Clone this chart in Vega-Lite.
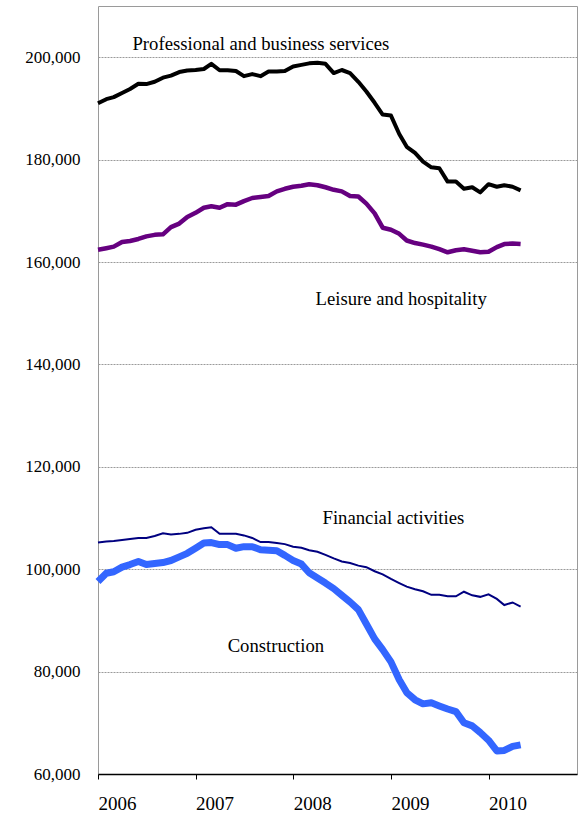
{
  "$schema": "https://vega.github.io/schema/vega-lite/v6.json",
  "width": 479,
  "height": 768,
  "autosize": {"type": "none"},
  "padding": {"left": 98, "top": 6, "right": 7, "bottom": 41},
  "background": "white",
  "config": {
    "view": {"stroke": "#9a9a9a", "strokeWidth": 1},
    "font": "Liberation Serif",
    "axis": {"labelFont": "Liberation Serif", "labelColor": "#000000", "titleFont": "Liberation Serif"}
  },
  "datasets": {
    "emp": [
      {"date": "2006-01-01", "pro": 191000, "lei": 162400, "fin": 105200, "con": 97600},
      {"date": "2006-02-01", "pro": 191800, "lei": 162700, "fin": 105400, "con": 99200},
      {"date": "2006-03-01", "pro": 192200, "lei": 163000, "fin": 105500, "con": 99500},
      {"date": "2006-04-01", "pro": 193000, "lei": 163900, "fin": 105700, "con": 100400},
      {"date": "2006-05-01", "pro": 193800, "lei": 164100, "fin": 105900, "con": 100900},
      {"date": "2006-06-01", "pro": 194800, "lei": 164500, "fin": 106100, "con": 101500},
      {"date": "2006-07-01", "pro": 194750, "lei": 165000, "fin": 106100, "con": 100900},
      {"date": "2006-08-01", "pro": 195200, "lei": 165300, "fin": 106500, "con": 101100},
      {"date": "2006-09-01", "pro": 196000, "lei": 165400, "fin": 107000, "con": 101300},
      {"date": "2006-10-01", "pro": 196400, "lei": 166800, "fin": 106800, "con": 101700},
      {"date": "2006-11-01", "pro": 197100, "lei": 167500, "fin": 106900, "con": 102400},
      {"date": "2006-12-01", "pro": 197400, "lei": 168800, "fin": 107100, "con": 103100},
      {"date": "2007-01-01", "pro": 197500, "lei": 169600, "fin": 107700, "con": 104100},
      {"date": "2007-02-01", "pro": 197700, "lei": 170600, "fin": 108000, "con": 105100},
      {"date": "2007-03-01", "pro": 198700, "lei": 170900, "fin": 108200, "con": 105200},
      {"date": "2007-04-01", "pro": 197450, "lei": 170600, "fin": 106900, "con": 104800},
      {"date": "2007-05-01", "pro": 197450, "lei": 171300, "fin": 106900, "con": 104800},
      {"date": "2007-06-01", "pro": 197300, "lei": 171200, "fin": 106900, "con": 104100},
      {"date": "2007-07-01", "pro": 196300, "lei": 171900, "fin": 106600, "con": 104400},
      {"date": "2007-08-01", "pro": 196700, "lei": 172500, "fin": 106100, "con": 104400},
      {"date": "2007-09-01", "pro": 196300, "lei": 172700, "fin": 105300, "con": 103800},
      {"date": "2007-10-01", "pro": 197200, "lei": 172900, "fin": 105300, "con": 103700},
      {"date": "2007-11-01", "pro": 197200, "lei": 173800, "fin": 105100, "con": 103600},
      {"date": "2007-12-01", "pro": 197300, "lei": 174300, "fin": 104900, "con": 102700},
      {"date": "2008-01-01", "pro": 198200, "lei": 174700, "fin": 104400, "con": 101700},
      {"date": "2008-02-01", "pro": 198500, "lei": 174900, "fin": 104200, "con": 101000},
      {"date": "2008-03-01", "pro": 198800, "lei": 175200, "fin": 103700, "con": 99300},
      {"date": "2008-04-01", "pro": 198900, "lei": 175000, "fin": 103400, "con": 98300},
      {"date": "2008-05-01", "pro": 198700, "lei": 174600, "fin": 102800, "con": 97300},
      {"date": "2008-06-01", "pro": 196900, "lei": 174100, "fin": 102100, "con": 96200},
      {"date": "2008-07-01", "pro": 197500, "lei": 173800, "fin": 101500, "con": 94900},
      {"date": "2008-08-01", "pro": 196900, "lei": 172900, "fin": 101200, "con": 93600},
      {"date": "2008-09-01", "pro": 195200, "lei": 172800, "fin": 100700, "con": 92100},
      {"date": "2008-10-01", "pro": 193300, "lei": 171400, "fin": 100400, "con": 89300},
      {"date": "2008-11-01", "pro": 191100, "lei": 169500, "fin": 99600, "con": 86400},
      {"date": "2008-12-01", "pro": 188800, "lei": 166700, "fin": 99000, "con": 84300},
      {"date": "2009-01-01", "pro": 188600, "lei": 166300, "fin": 98100, "con": 81900},
      {"date": "2009-02-01", "pro": 185000, "lei": 165500, "fin": 97300, "con": 78400},
      {"date": "2009-03-01", "pro": 182500, "lei": 164200, "fin": 96600, "con": 75900},
      {"date": "2009-04-01", "pro": 181300, "lei": 163700, "fin": 96100, "con": 74500},
      {"date": "2009-05-01", "pro": 179600, "lei": 163400, "fin": 95700, "con": 73700},
      {"date": "2009-06-01", "pro": 178500, "lei": 163000, "fin": 95000, "con": 73900},
      {"date": "2009-07-01", "pro": 178300, "lei": 162500, "fin": 95000, "con": 73300},
      {"date": "2009-08-01", "pro": 175700, "lei": 161900, "fin": 94700, "con": 72700},
      {"date": "2009-09-01", "pro": 175700, "lei": 162300, "fin": 94700, "con": 72200},
      {"date": "2009-10-01", "pro": 174300, "lei": 162500, "fin": 95600, "con": 70000},
      {"date": "2009-11-01", "pro": 174600, "lei": 162200, "fin": 94900, "con": 69400},
      {"date": "2009-12-01", "pro": 173600, "lei": 161900, "fin": 94600, "con": 68100},
      {"date": "2010-01-01", "pro": 175200, "lei": 162000, "fin": 95100, "con": 66600},
      {"date": "2010-02-01", "pro": 174700, "lei": 162900, "fin": 94200, "con": 64500},
      {"date": "2010-03-01", "pro": 175000, "lei": 163500, "fin": 93000, "con": 64600},
      {"date": "2010-04-01", "pro": 174700, "lei": 163600, "fin": 93500, "con": 65400},
      {"date": "2010-05-01", "pro": 174000, "lei": 163500, "fin": 92700, "con": 65700}
    ],
    "labels": [
      {"date": "2006-05-10", "value": 202550, "label": "Professional and business services"},
      {"date": "2008-03-25", "value": 152810, "label": "Leisure and hospitality"},
      {"date": "2008-04-20", "value": 110050, "label": "Financial activities"},
      {"date": "2007-05-01", "value": 85050, "label": "Construction"}
    ]
  },
  "layer": [
    {
      "data": {"name": "emp"},
      "mark": {"type": "line", "color": "#3366ff", "strokeWidth": 7, "strokeJoin": "round", "strokeCap": "butt"},
      "encoding": {
        "x": {
          "field": "date", "type": "temporal",
          "scale": {"type": "utc", "domain": [{"year": 2006, "month": 1, "date": 1, "utc": true}, {"year": 2010, "month": 11, "date": 28, "utc": true}]},
          "axis": {
            "title": null,
            "values": [
              {"year": 2006, "month": 1, "date": 1, "utc": true},
              {"year": 2007, "month": 1, "date": 1, "utc": true},
              {"year": 2008, "month": 1, "date": 1, "utc": true},
              {"year": 2009, "month": 1, "date": 1, "utc": true},
              {"year": 2010, "month": 1, "date": 1, "utc": true}
            ],
            "format": "%Y",
            "labelFontSize": 19,
            "labelAlign": "left",
            "labelFlush": false,
            "labelPadding": 15,
            "tickSize": 5,
            "tickColor": "#000000",
            "domainColor": "#000000",
            "domainWidth": 1.5,
            "grid": false
          }
        },
        "y": {
          "field": "con", "type": "quantitative",
          "scale": {"domain": [60000, 210000], "nice": false, "zero": false},
          "axis": {
            "title": null,
            "values": [60000, 80000, 100000, 120000, 140000, 160000, 180000, 200000],
            "format": ",d",
            "labelFontSize": 17,
            "domain": false,
            "ticks": false,
            "labelPadding": 18,
            "grid": true,
            "gridColor": "#9a9a9a",
            "gridDash": [2, 1],
            "gridWidth": 1
          }
        }
      }
    },
    {
      "data": {"name": "emp"},
      "mark": {"type": "line", "color": "#000080", "strokeWidth": 2},
      "encoding": {
        "x": {"field": "date", "type": "temporal"},
        "y": {"field": "fin", "type": "quantitative"}
      }
    },
    {
      "data": {"name": "emp"},
      "mark": {"type": "line", "color": "#660080", "strokeWidth": 4.5, "strokeJoin": "round"},
      "encoding": {
        "x": {"field": "date", "type": "temporal"},
        "y": {"field": "lei", "type": "quantitative"}
      }
    },
    {
      "data": {"name": "emp"},
      "mark": {"type": "line", "color": "#000000", "strokeWidth": 4, "strokeJoin": "round"},
      "encoding": {
        "x": {"field": "date", "type": "temporal"},
        "y": {"field": "pro", "type": "quantitative"}
      }
    },
    {
      "data": {"name": "labels"},
      "mark": {"type": "text", "align": "left", "baseline": "middle", "fontSize": 18.7, "font": "Liberation Serif", "color": "#000000"},
      "encoding": {
        "x": {"field": "date", "type": "temporal"},
        "y": {"field": "value", "type": "quantitative"},
        "text": {"field": "label"}
      }
    }
  ]
}
